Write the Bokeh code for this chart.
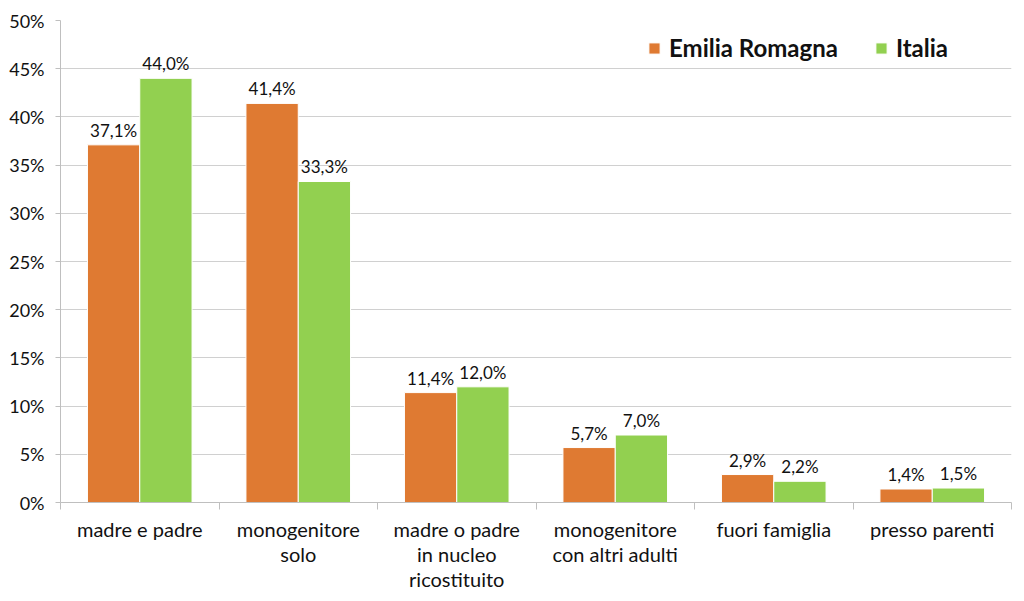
from bokeh.plotting import figure
from bokeh.models import ColumnDataSource, FixedTicker, Legend, LegendItem, Range1d
from bokeh.transform import dodge
from bokeh.embed import file_html
from bokeh.resources import INLINE

categories = ["madre e padre", "monogenitore\nsolo", "madre o padre\nin nucleo\nricostituito",
              "monogenitore\ncon altri adulti", "fuori famiglia", "presso parenti"]
emilia = [37.1, 41.4, 11.4, 5.7, 2.9, 1.4]
italia = [44.0, 33.3, 12.0, 7.0, 2.2, 1.5]
series_names = ["Emilia Romagna", "Italia"]
y_ticks = [0, 5, 10, 15, 20, 25, 30, 35, 40, 45, 50]

ORANGE = "#DF7A32"
GREEN = "#92D050"
FONT = "Lato"

x = [i + 0.5 for i in range(len(categories))]
src = ColumnDataSource(dict(
    x=x, emilia=emilia, italia=italia,
    emilia_lbl=[f"{v:.1f}%".replace(".", ",") for v in emilia],
    italia_lbl=[f"{v:.1f}%".replace(".", ",") for v in italia],
))

p = figure(width=1016, height=593, output_backend="svg", toolbar_location=None,
           x_range=Range1d(0, len(categories)), y_range=Range1d(0, 50),
           min_border_left=60, min_border_right=5, min_border_top=20, min_border_bottom=60)
p.outline_line_color = None
p.background_fill_color = "white"

r1 = p.vbar(x=dodge("x", -0.165, range=p.x_range), top="emilia", width=0.33, source=src,
            fill_color=ORANGE, line_color="white", line_width=1)
r2 = p.vbar(x=dodge("x", 0.165, range=p.x_range), top="italia", width=0.33, source=src,
            fill_color=GREEN, line_color="white", line_width=1)

for col, lbl, off in (("emilia", "emilia_lbl", -0.165), ("italia", "italia_lbl", 0.165)):
    p.text(x=dodge("x", off, range=p.x_range), y=col, text=lbl, source=src,
           text_align="center", text_baseline="bottom", y_offset=-4,
           text_font_size="17px", text_color="#111111", text_font=dict(value=FONT))

# y axis
p.yaxis.ticker = FixedTicker(ticks=y_ticks)
p.yaxis.major_label_overrides = {t: f"{t}%" for t in y_ticks}
p.yaxis.major_label_text_font = FONT
p.yaxis.major_label_text_font_size = "18px"
p.yaxis.major_label_text_color = "#111111"
p.yaxis.axis_line_color = "#BFBFBF"
p.yaxis.major_tick_line_color = "#BFBFBF"
p.yaxis.major_tick_in = 0
p.yaxis.major_tick_out = 5
p.yaxis.minor_tick_line_color = None
p.yaxis.major_label_standoff = 11

# x axis
p.xaxis.ticker = FixedTicker(ticks=x, minor_ticks=list(range(len(categories) + 1)))
p.xaxis.major_label_overrides = {xx: c for xx, c in zip(x, categories)}
p.xaxis.major_label_text_font = FONT
p.xaxis.major_label_text_font_size = "20px"
p.xaxis.major_label_text_line_height = 1.05
p.xaxis.major_label_text_color = "#111111"
p.xaxis.axis_line_color = "#BFBFBF"
p.xaxis.major_tick_line_color = None
p.xaxis.minor_tick_line_color = "#BFBFBF"
p.xaxis.minor_tick_in = 0
p.xaxis.minor_tick_out = 7
p.xaxis.major_label_standoff = 7
p.xaxis.axis_label_standoff = 0

p.xgrid.grid_line_color = None
p.ygrid.ticker = FixedTicker(ticks=y_ticks)
p.ygrid.grid_line_color = "#D0D0D0"

legend = Legend(items=[LegendItem(label=series_names[0], renderers=[r1]),
                       LegendItem(label=series_names[1], renderers=[r2])],
                orientation="horizontal", location=(587, 440),
                label_text_font=FONT, label_text_font_style="bold",
                label_text_font_size="24px", label_text_color="#111111",
                glyph_width=14, glyph_height=14, spacing=36, label_standoff=8,
                background_fill_alpha=0, border_line_color=None, padding=0, margin=0)
p.add_layout(legend)

open("out.html", "w").write(file_html(p, INLINE))
